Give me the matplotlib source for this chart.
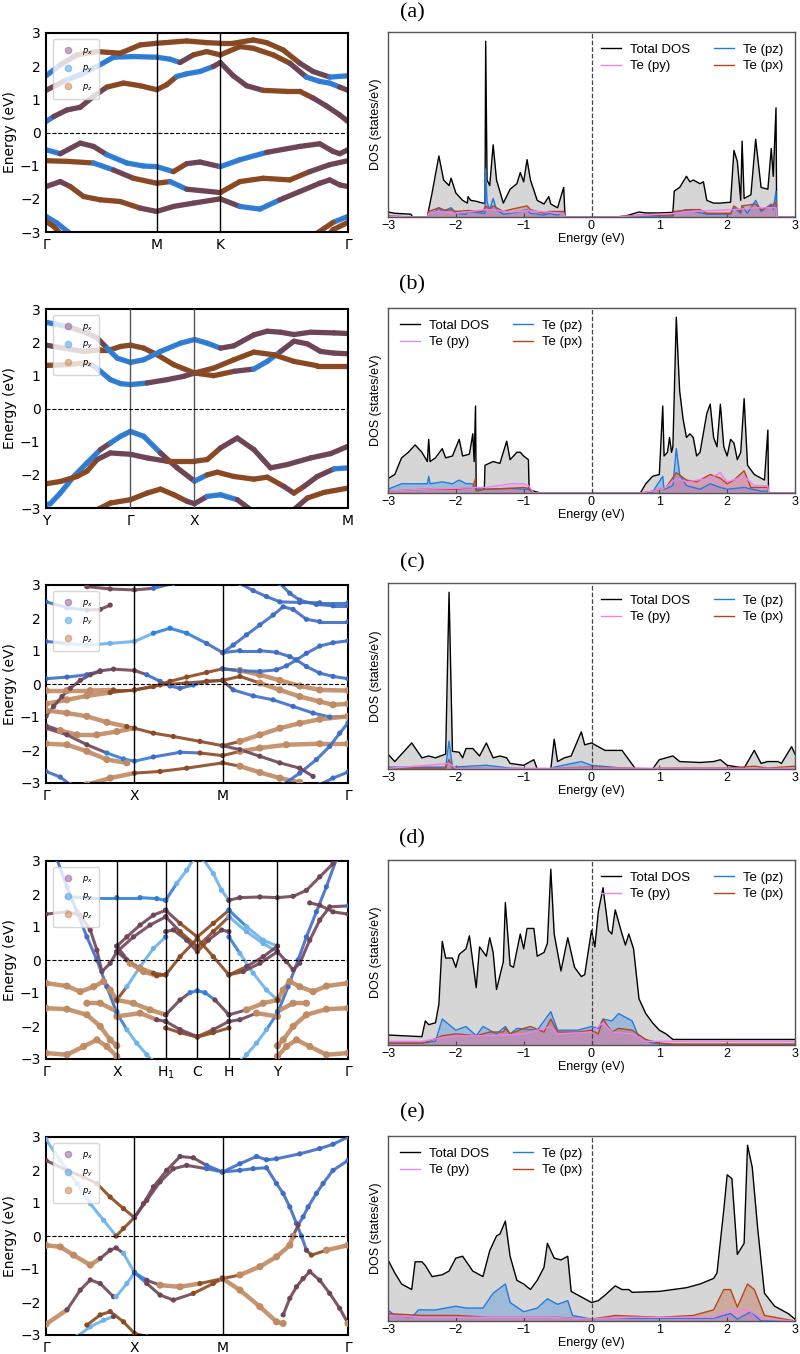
import numpy as np
import matplotlib
matplotlib.use("Agg")
import matplotlib.pyplot as plt
from matplotlib.collections import LineCollection
from matplotlib.lines import Line2D

# ---------------- band structures: (k, E, orbital tag) ----------------
# tags: z = pz brown, x = px purple-brown, y = py blue, b = light blue, d = blue dots, o = tan
KTICKS_A = [0, 333, 524, 908]
KLABELS_A = ['Γ', 'M', 'K', 'Γ']
BANDS_A = [
    [(0, .33, 'y'), (23, .48, 'x'), (63, .68, 'x'), (103, .76, 'x'), (143, 1.09, 'x'), (183, 1.37, 'z'), (233, 1.49, 'z'),
     (283, 1.41, 'z'), (333, 1.29, 'z'), (363, 1.44, 'z'), (393, 1.69, 'y'), (423, 1.77, 'y'), (463, 1.84, 'y'), (503, 1.99, 'x'),
     (524, 2.11, 'x'), (563, 1.71, 'x'), (603, 1.41, 'x'), (653, 1.27, 'z'), (723, 1.24, 'z'), (763, 1.24, 'z'), (803, 1.04, 'x'),
     (843, .80, 'x'), (883, .53, 'x'), (908, .33, 'x')],
    [(0, 1.27, 'x'), (33, 1.44, 'x'), (63, 1.59, 'y'), (103, 1.74, 'y'), (153, 1.99, 'y'), (203, 2.27, 'y'), (263, 2.29, 'y'),
     (333, 2.27, 'y'), (373, 2.21, 'y'), (403, 2.11, 'x'), (443, 2.34, 'z'), (483, 2.44, 'z'), (524, 2.34, 'z'), (583, 2.59, 'z'),
     (623, 2.54, 'z'), (683, 2.34, 'z'), (733, 2.09, 'x'), (783, 1.67, 'y'), (823, 1.54, 'y'), (853, 1.49, 'y'), (883, 1.37, 'x'),
     (908, 1.27, 'x')],
    [(0, 1.71, 'y'), (43, 2.04, 'x'), (93, 2.34, 'z'), (153, 2.44, 'z'), (223, 2.39, 'z'), (283, 2.64, 'z'), (333, 2.69, 'z'),
     (423, 2.76, 'z'), (483, 2.71, 'z'), (524, 2.69, 'z'), (563, 2.69, 'z'), (623, 2.79, 'z'), (663, 2.71, 'z'), (713, 2.49, 'z'),
     (763, 2.09, 'x'), (803, 1.84, 'x'), (853, 1.67, 'y'), (908, 1.71, 'y')],
    [(0, -.52, 'y'), (43, -.64, 'x'), (103, -.32, 'x'), (143, -.42, 'x'), (183, -.67, 'y'), (243, -.92, 'y'), (293, -1.01, 'y'),
     (333, -1.03, 'y'), (383, -1.18, 'z'), (423, -.94, 'x'), (463, -.89, 'x'), (524, -1.03, 'y'), (583, -.82, 'y'), (663, -.60, 'x'),
     (763, -.42, 'x'), (823, -.34, 'x'), (863, -.57, 'x'), (883, -.64, 'x'), (908, -.52, 'y')],
    [(0, -.85, 'z'), (63, -.87, 'z'), (143, -.92, 'y'), (203, -1.13, 'x'), (263, -1.38, 'z'), (333, -1.53, 'z'), (373, -1.48, 'y'),
     (423, -1.71, 'x'), (524, -1.81, 'z'), (583, -1.48, 'z'), (653, -1.38, 'z'), (733, -1.43, 'z'), (793, -1.18, 'x'),
     (853, -.97, 'x'), (908, -.85, 'z')],
    [(0, -1.63, 'x'), (43, -1.48, 'x'), (73, -1.63, 'z'), (113, -1.93, 'z'), (163, -2.03, 'z'), (223, -2.08, 'z'), (283, -2.28, 'x'),
     (333, -2.38, 'x'), (383, -2.23, 'x'), (443, -2.13, 'x'), (524, -2.0, 'x'), (583, -2.23, 'y'), (643, -2.31, 'y'),
     (703, -2.03, 'x'), (763, -1.78, 'x'), (823, -1.53, 'x'), (853, -1.43, 'x'), (883, -1.58, 'x'), (908, -1.63, 'z')],
    [(0, -2.53, 'y'), (33, -2.73, 'y'), (73, -3.05, 'x')],
    [(0, -2.68, 'z'), (23, -2.83, 'z'), (43, -3.05, 'z')],
    [(908, -2.53, 'y'), (863, -2.71, 'z'), (813, -3.05, 'z')],
    [(908, -2.71, 'z'), (863, -2.93, 'z'), (853, -3.05, 'z')],
]

KTICKS_B = [0, 253, 445, 905]
KLABELS_B = ['Y', 'Γ', 'X', 'M']
BANDS_B = [
    [(0, 1.30, 'z'), (63, 1.32, 'z'), (113, 1.37, 'z'), (143, 1.29, 'y'), (163, 1.12, 'y'), (193, .87, 'y'), (223, .75, 'y'),
     (253, .72, 'y'), (303, .77, 'x'), (363, .87, 'x'), (413, .97, 'x'), (445, 1.07, 'z'), (503, .99, 'z'), (563, 1.12, 'x'),
     (623, 1.19, 'y'), (663, 1.42, 'y'), (703, 1.72, 'x'), (743, 2.03, 'x'), (783, 1.95, 'x'), (823, 1.72, 'x'), (863, 1.67, 'x'),
     (905, 1.65, 'x')],
    [(0, 1.91, 'x'), (113, 1.72, 'z'), (163, 1.77, 'z'), (193, 1.77, 'z'), (223, 1.87, 'z'), (253, 1.91, 'z'), (293, 1.82, 'z'),
     (333, 1.62, 'z'), (383, 1.32, 'z'), (445, 1.07, 'z'), (503, 1.22, 'z'), (563, 1.47, 'z'), (623, 1.70, 'z'), (683, 1.62, 'z'),
     (743, 1.42, 'z'), (813, 1.29, 'z'), (905, 1.29, 'z')],
    [(0, 2.60, 'y'), (63, 2.47, 'x'), (123, 2.28, 'x'), (153, 2.13, 'x'), (183, 1.82, 'y'), (213, 1.52, 'y'), (253, 1.39, 'y'),
     (293, 1.47, 'y'), (343, 1.72, 'y'), (403, 1.97, 'y'), (445, 2.08, 'y'), (483, 1.97, 'y'), (523, 1.82, 'x'), (563, 1.89, 'x'),
     (623, 2.22, 'x'), (663, 2.33, 'x'), (703, 2.30, 'x'), (743, 2.23, 'x'), (793, 2.30, 'x'), (863, 2.28, 'x'), (905, 2.26, 'x')],
    [(0, -2.90, 'y'), (13, -2.87, 'y'), (43, -2.55, 'y'), (83, -2.05, 'y'), (123, -1.64, 'y'), (163, -1.24, 'x'), (193, -1.04, 'y'),
     (223, -.84, 'y'), (253, -.69, 'y'), (293, -.84, 'y'), (343, -1.34, 'x'), (393, -1.79, 'x'), (445, -2.19, 'y'), (483, -2.0, 'z'),
     (513, -1.92, 'z'), (563, -2.05, 'z'), (623, -2.13, 'z'), (663, -2.07, 'z'), (713, -2.35, 'x'), (743, -2.55, 'z'),
     (773, -2.35, 'x'), (813, -2.05, 'x'), (863, -1.82, 'y'), (905, -1.79, 'y')],
    [(0, -2.27, 'z'), (43, -2.20, 'z'), (93, -2.05, 'z'), (123, -1.89, 'z'), (153, -1.54, 'x'), (193, -1.34, 'x'), (223, -1.36, 'x'),
     (253, -1.38, 'x'), (303, -1.49, 'x'), (363, -1.59, 'z'), (403, -1.59, 'z'), (445, -1.59, 'z'), (483, -1.54, 'z'),
     (523, -1.19, 'x'), (573, -.89, 'x'), (623, -1.24, 'x'), (673, -1.79, 'x'), (723, -1.69, 'x'), (793, -1.49, 'x'),
     (853, -1.36, 'x'), (905, -1.14, 'x')],
    [(153, -3.05, 'z'), (193, -2.85, 'z'), (253, -2.75, 'z'), (303, -2.55, 'z'), (343, -2.43, 'z'), (383, -2.60, 'z'),
     (423, -2.80, 'x'), (445, -2.87, 'x'), (483, -2.65, 'y'), (523, -2.60, 'y'), (573, -2.75, 'x'), (613, -3.05, 'x')],
    [(743, -3.05, 'x'), (783, -2.70, 'z'), (833, -2.53, 'z'), (905, -2.40, 'z')],
]

KTICKS_C = [0, 266, 531, 908]
KLABELS_C = ['Γ', 'X', 'M', 'Γ']
BANDS_C = [
    [(0, .16, 'd'), (63, .21, 'd'), (123, .28, 'd'), (163, .40, 'x'), (203, .45, 'x'), (266, .41, 'x'), (303, .28, 'd'), (343, .08, 'd'),
     (373, -.06, 'd'), (403, -.13, 'd'), (443, -.03, 'd'), (483, .08, 'd'), (531, .11, 'x'), (563, -.18, 'd'), (623, -.36, 'd'),
     (683, -.48, 'd'), (743, -.68, 'd'), (803, -.88, 'd'), (853, -1.0, 'd'), (908, -.98, 'd')],
    [(0, -.20, 'o'), (63, -.20, 'o'), (133, -.20, 'o'), (203, -.18, 'z'), (266, -.18, 'z'), (323, -.08, 'z'), (373, .08, 'z'),
     (423, .21, 'z'), (483, .35, 'z'), (531, .46, 'z'), (583, .41, 'o'), (643, .28, 'o'), (703, .11, 'o'), (763, -.06, 'o'),
     (823, -.18, 'o'), (908, -.20, 'o')],
    [(0, -.60, 'o'), (63, -.48, 'o'), (123, -.36, 'o'), (193, -.26, 'z'), (266, -.18, 'z'), (343, -.03, 'z'), (423, .03, 'z'),
     (483, .08, 'z'), (531, .11, 'z'), (583, .23, 'z'), (643, .03, 'o'), (703, -.18, 'o'), (763, -.38, 'o'), (823, -.53, 'o'),
     (863, -.63, 'o'), (908, -.60, 'o')],
    [(0, -.98, 'x'), (23, -.68, 'x'), (48, -.38, 'x'), (73, -.13, 'x'), (103, .11, 'x'), (133, .28, 'x'), (163, .38, 'x')],
    [(0, -.80, 'o'), (63, -.88, 'o'), (123, -.98, 'o'), (183, -1.16, 'o'), (243, -1.29, 'z'), (266, -1.34, 'z'), (323, -1.49, 'z'),
     (383, -1.59, 'z'), (463, -1.74, 'z'), (531, -1.87, 'z'), (583, -1.74, 'o'), (643, -1.54, 'o'), (703, -1.34, 'o'),
     (763, -1.19, 'o'), (823, -1.07, 'o'), (908, -.98, 'o')],
    [(0, -1.26, 'x'), (43, -1.41, 'o'), (93, -1.54, 'o'), (153, -1.54, 'o'), (213, -1.44, 'o'), (266, -1.34, 'z')],
    [(0, -1.34, 'x'), (63, -1.54, 'x'), (123, -1.84, 'x'), (183, -2.09, 'y'), (233, -2.27, 'y'), (266, -2.34, 'y'), (323, -2.21, 'd'),
     (403, -2.07, 'd'), (463, -2.09, 'z'), (531, -2.17, 'z'), (583, -2.04, 'o'), (643, -1.94, 'o'), (723, -1.84, 'o'),
     (823, -1.81, 'o'), (908, -1.81, 'o')],
    [(0, -1.81, 'o'), (63, -1.84, 'o'), (123, -2.04, 'o'), (183, -2.29, 'o'), (243, -2.39, 'o')],
    [(123, -3.05, 'o'), (193, -2.85, 'o'), (266, -2.70, 'z'), (343, -2.65, 'z'), (423, -2.55, 'z'), (531, -2.39, 'z'),
     (583, -2.49, 'o'), (643, -2.68, 'o'), (703, -2.85, 'o'), (763, -2.98, 'o')],
    [(0, -2.65, 'd'), (43, -2.82, 'd'), (73, -3.05, 'd')],
    [(0, 1.29, 'd'), (63, 1.23, 'b'), (123, 1.18, 'b'), (193, 1.23, 'b'), (266, 1.29, 'b'), (323, 1.54, 'y'), (373, 1.69, 'y'),
     (423, 1.54, 'y'), (483, 1.23, 'd'), (531, .95, 'd'), (563, 1.18, 'd'), (603, 1.49, 'd'), (643, 1.79, 'd'), (683, 2.09, 'd'),
     (713, 2.34, 'd'), (743, 2.26, 'd'), (783, 1.96, 'd'), (823, 1.89, 'd'), (908, 1.89, 'd')],
    [(531, .95, 'd'), (583, 1.01, 'd'), (643, 1.01, 'd'), (693, .96, 'd'), (733, .83, 'd'), (753, .73, 'd'), (783, .93, 'd'),
     (823, 1.15, 'd'), (863, 1.25, 'd'), (908, 1.31, 'd')],
    [(531, .46, 'd'), (583, .40, 'd'), (643, .38, 'd'), (693, .43, 'd'), (723, .55, 'd'), (753, .73, 'd'), (783, .53, 'd'),
     (823, .33, 'd'), (863, .23, 'd'), (908, .16, 'd')],
    [(583, 3.05, 'd'), (623, 2.83, 'd'), (663, 2.65, 'd'), (703, 2.49, 'd'), (763, 2.47, 'd'), (823, 2.46, 'd'), (908, 2.46, 'd')],
    [(703, 3.05, 'd'), (733, 2.75, 'd'), (763, 2.54, 'd'), (813, 2.41, 'd'), (863, 2.37, 'd'), (908, 2.37, 'd')],
    [(123, 2.95, 'x'), (193, 2.88, 'x'), (266, 2.85, 'x'), (323, 2.90, 'd'), (383, 3.05, 'd')],
    [(0, 2.49, 'd'), (63, 2.31, 'd'), (123, 2.24, 'x'), (163, 2.26, 'x'), (193, 2.39, 'x')],
    [(713, -3.05, 'd'), (763, -2.70, 'd'), (813, -2.29, 'd'), (853, -1.89, 'd'), (883, -1.49, 'd'), (908, -1.18, 'd')],
    [(823, -3.05, 'd'), (863, -2.85, 'd'), (908, -2.67, 'd')],
    [(531, -1.87, 'x'), (583, -1.99, 'x'), (643, -2.19, 'x'), (703, -2.39, 'x'), (763, -2.55, 'x'), (803, -2.80, 'x')],
]

KTICKS_D = [0, 213, 360, 455, 550, 696, 908]
KLABELS_D = ['Γ', 'X', 'H$_1$', 'C', 'H', 'Y', 'Γ']
BANDS_D = [
    [(33, 3.05, 'd'), (63, 2.22, 'd'), (93, 1.46, 'd'), (123, .70, 'd'), (153, 0.0, 'd'), (183, -.81, 'd'), (213, -1.61, 'y'),
     (243, -2.11, 'b'), (273, -2.52, 'b'), (303, -2.87, 'b'), (318, -3.05, 'b')],
    [(873, 3.05, 'd'), (843, 2.22, 'd'), (813, 1.46, 'd'), (783, .70, 'd'), (758, 0.0, 'd'), (728, -.81, 'd'), (696, -1.61, 'y'),
     (663, -2.11, 'b'), (633, -2.52, 'b'), (603, -2.87, 'b'), (588, -3.05, 'b')],
    [(213, -1.21, 'z'), (243, -.81, 'b'), (283, -.20, 'b'), (323, .35, 'b'), (360, .70, 'y')],
    [(550, .70, 'y'), (583, .20, 'b'), (623, -.40, 'b'), (663, -.91, 'b'), (696, -1.21, 'z')],
    [(360, 1.51, 'x'), (403, 1.11, 'z'), (455, .70, 'z'), (503, 1.11, 'z'), (550, 1.51, 'x')],
    [(360, 1.31, 'x'), (403, .86, 'z'), (455, .40, 'z'), (503, .86, 'z'), (550, 1.31, 'x')],
    [(360, -.45, 'z'), (403, .10, 'z'), (455, .65, 'z'), (503, .10, 'z'), (550, -.45, 'z')],
    [(360, .86, 'x'), (383, .91, 'x'), (423, .60, 'x'), (455, .25, 'z'), (488, .60, 'x'), (528, .91, 'x'), (550, .86, 'x')],
    [(360, 1.81, 'y'), (393, 2.32, 'b'), (423, 2.72, 'b'), (443, 3.05, 'b')],
    [(473, 3.05, 'b'), (503, 2.62, 'b'), (528, 2.11, 'b'), (550, 1.81, 'y')],
    [(360, -1.66, 'x'), (403, -1.21, 'x'), (433, -.99, 'y'), (455, -.93, 'y'), (478, -.99, 'y'), (508, -1.21, 'x'), (550, -1.66, 'x')],
    [(360, -2.06, 'z'), (403, -2.20, 'z'), (455, -2.34, 'z'), (503, -2.20, 'z'), (550, -2.06, 'z')],
    [(360, -1.86, 'x'), (403, -2.11, 'x'), (455, -2.32, 'z'), (503, -2.11, 'x'), (550, -1.86, 'x')],
    [(213, -1.21, 'o'), (263, -1.31, 'o'), (313, -1.51, 'o'), (360, -1.66, 'x')],
    [(213, -1.71, 'o'), (283, -1.61, 'o'), (333, -1.81, 'x'), (360, -1.86, 'x')],
    [(550, -1.66, 'x'), (603, -1.51, 'o'), (653, -1.31, 'o'), (696, -1.21, 'o')],
    [(550, -1.86, 'x'), (583, -1.81, 'x'), (633, -1.61, 'o'), (696, -1.71, 'o')],
    [(213, .42, 'x'), (243, .70, 'x'), (283, 1.06, 'x'), (323, 1.36, 'x'), (360, 1.51, 'x')],
    [(213, .25, 'x'), (263, .70, 'x'), (313, 1.06, 'x'), (360, 1.31, 'x')],
    [(213, .25, 'x'), (243, 0.0, 'x'), (283, -.25, 'o'), (323, -.40, 'z'), (360, -.45, 'z')],
    [(213, .42, 'x'), (253, -.10, 'o'), (293, -.35, 'o'), (333, -.48, 'z'), (360, -.45, 'z')],
    [(550, 1.51, 'y'), (603, 1.01, 'b'), (653, .60, 'b'), (696, .42, 'x')],
    [(550, 1.31, 'b'), (603, .86, 'b'), (653, .50, 'b'), (696, .25, 'x')],
    [(550, -.45, 'z'), (593, -.35, 'x'), (643, -.10, 'x'), (696, .25, 'x')],
    [(550, -.45, 'z'), (603, -.20, 'x'), (653, .10, 'x'), (696, .42, 'x')],
    [(63, 1.91, 'y'), (123, 1.89, 'y'), (213, 1.89, 'y'), (283, 1.89, 'y'), (333, 1.86, 'y'), (360, 1.81, 'y')],
    [(550, 1.81, 'x'), (583, 1.89, 'x'), (643, 1.91, 'x'), (696, 1.89, 'x'), (743, 1.93, 'x'), (783, 2.11, 'x'), (823, 2.52, 'x'),
     (863, 2.92, 'x')],
    [(0, 1.39, 'x'), (63, 1.46, 'x'), (103, 1.36, 'x'), (133, .91, 'x'), (153, .30, 'x'), (168, -.35, 'x'), (193, -.10, 'x'),
     (213, .25, 'x')],
    [(696, .25, 'x'), (723, -.05, 'x'), (743, -.30, 'x'), (763, -.10, 'x'), (793, .60, 'x'), (823, 1.21, 'x'), (853, 1.61, 'x'),
     (908, 1.64, 'y')],
    [(908, 1.39, 'x'), (863, 1.46, 'x'), (823, 1.66, 'x'), (793, 1.73, 'x')],
    [(0, -.70, 'o'), (63, -.79, 'o'), (103, -.96, 'o'), (143, -.81, 'o'), (173, -.65, 'o'), (193, -.91, 'o'), (213, -1.21, 'z')],
    [(908, -.70, 'o'), (843, -.79, 'o'), (803, -.96, 'o'), (763, -.81, 'o'), (733, -.65, 'o'), (713, -.91, 'o'), (696, -1.21, 'z')],
    [(0, -1.46, 'o'), (63, -1.49, 'o'), (123, -1.66, 'o'), (163, -2.01, 'o'), (193, -2.42, 'o'), (213, -2.60, 'o')],
    [(123, -1.31, 'o'), (163, -1.31, 'o'), (213, -1.56, 'y')],
    [(908, -1.46, 'o'), (843, -1.49, 'o'), (783, -1.66, 'o'), (743, -2.01, 'o'), (713, -2.42, 'o'), (696, -2.60, 'o')],
    [(783, -1.31, 'o'), (743, -1.31, 'o'), (696, -1.56, 'y')],
    [(0, -2.82, 'o'), (63, -2.87, 'o'), (113, -2.62, 'o'), (153, -2.42, 'o'), (183, -2.62, 'o'), (213, -2.92, 'o')],
    [(908, -2.82, 'o'), (843, -2.87, 'o'), (793, -2.62, 'o'), (753, -2.42, 'o'), (723, -2.62, 'o'), (696, -2.92, 'o')],
]

KTICKS_E = [0, 266, 531, 908]
KLABELS_E = ['Γ', 'X', 'M', 'Γ']
BANDS_E = [
    [(0, 2.92, 'b'), (43, 2.29, 'b'), (93, 1.59, 'b'), (133, .98, 'b'), (173, .48, 'b'), (211, 0.0, 'b')],
    [(211, 0.0, 'z'), (233, .23, 'z'), (266, .56, 'z')],
    [(0, 2.29, 'x'), (63, 1.99, 'z'), (113, 1.79, 'z'), (153, 1.59, 'z'), (193, 1.18, 'z'), (233, .83, 'z'), (266, .56, 'z')],
    [(266, .56, 'x'), (293, .98, 'x'), (323, 1.49, 'x'), (363, 1.99, 'x'), (403, 2.41, 'x'), (443, 2.37, 'x'), (483, 2.14, 'd'),
     (531, 1.94, 'd')],
    [(266, .56, 'x'), (303, 1.08, 'x'), (343, 1.64, 'x'), (383, 2.04, 'x'), (423, 2.14, 'x'), (483, 2.04, 'd'), (531, 1.94, 'd')],
    [(531, 1.94, 'd'), (583, 2.19, 'd'), (633, 2.41, 'd'), (663, 2.31, 'd'), (693, 2.34, 'd'), (763, 2.49, 'd'), (823, 2.65, 'd'),
     (863, 2.78, 'd'), (908, 3.0, 'd')],
    [(531, 1.94, 'd'), (583, 1.99, 'd'), (623, 2.04, 'd'), (663, 2.07, 'd'), (693, 1.59, 'd'), (713, 1.29, 'd'), (733, .88, 'd'),
     (753, .38, 'd'), (768, 0.0, 'd'), (783, -.43, 'x'), (798, -.58, 'z'), (843, -.43, 'o'), (908, -.28, 'o')],
    [(908, 2.29, 'd'), (863, 1.99, 'd'), (833, 1.59, 'd'), (813, 1.29, 'd'), (788, .88, 'd'), (773, .58, 'd'), (758, .33, 'x'),
     (743, 0.0, 'z')],
    [(531, -1.29, 'z'), (583, -1.18, 'o'), (643, -.93, 'o'), (693, -.63, 'o'), (733, -.28, 'o'), (743, 0.0, 'o')],
    [(531, -1.29, 'o'), (583, -1.64, 'o'), (643, -2.14, 'o'), (693, -2.60, 'o'), (713, -2.65, 'o')],
    [(713, -2.39, 'x'), (733, -1.89, 'x'), (753, -1.54, 'x'), (773, -1.29, 'x'), (793, -1.08, 'x'), (823, -1.34, 'x'),
     (853, -1.74, 'x'), (883, -2.19, 'x'), (908, -2.65, 'o')],
    [(0, -.28, 'o'), (43, -.33, 'o'), (83, -.58, 'o'), (133, -.88, 'o'), (163, -.68, 'x'), (193, -.43, 'x'), (211, -.36, 'x'),
     (233, -.53, 'b'), (266, -1.11, 'y')],
    [(0, -2.67, 'o'), (63, -2.24, 'x'), (103, -1.64, 'x'), (133, -1.33, 'x'), (163, -1.44, 'x'), (203, -1.84, 'x'),
     (211, -1.84, 'b'), (243, -1.44, 'b'), (266, -1.11, 'y')],
    [(266, -1.11, 'y'), (303, -1.34, 'x'), (343, -1.49, 'o'), (403, -1.54, 'o'), (463, -1.44, 'z'), (531, -1.29, 'z')],
    [(266, -1.11, 'y'), (303, -1.44, 'x'), (343, -1.79, 'x'), (383, -1.94, 'x'), (443, -1.74, 'z'), (503, -1.44, 'z'),
     (531, -1.29, 'z')],
    [(93, -3.05, 'b'), (133, -2.75, 'b'), (173, -2.55, 'b'), (203, -2.44, 'x')],
    [(123, -2.70, 'z'), (163, -2.39, 'z'), (193, -2.29, 'z'), (233, -2.60, 'z'), (266, -2.95, 'z'), (303, -3.05, 'z')],
]

# ---------------- DOS: (E, states/eV, scaled to panel) ----------------
DOS_A_TOT = [(-3.0, .027), (-2.9, .02), (-2.66, .015), (-2.64, 0), (-2.42, 0), (-2.40, .04), (-2.35, .13), (-2.25, .33), (-2.18, .2),
             (-2.1, .17), (-2.07, .21), (-2.0, .13), (-1.9, .09), (-1.83, .075), (-1.82, .11), (-1.78, .09), (-1.7, .085),
             (-1.6, .075), (-1.57, .075), (-1.56, .95), (-1.54, .2), (-1.5, .17), (-1.45, .39), (-1.4, .2), (-1.3, .075),
             (-1.2, .15), (-1.1, .18), (-1.05, .24), (-1.0, .19), (-.95, .31), (-.9, .2), (-.8, .09), (-.7, .07), (-.63, .11),
             (-.6, .07), (-.5, .05), (-.41, .16), (-.39, 0), (.35, 0), (.5, .005), (.7, .027), (.8, .022), (1.0, .022),
             (1.2, .025), (1.22, .14), (1.3, .16), (1.4, .22), (1.45, .19), (1.5, .2), (1.6, .18), (1.65, .19), (1.7, .09),
             (1.8, .075), (1.9, .075), (2.05, .08), (2.1, .36), (2.15, .3), (2.2, .09), (2.22, .41), (2.25, .1), (2.35, .12),
             (2.42, .42), (2.5, .16), (2.6, .15), (2.65, .37), (2.68, .22), (2.72, .59), (2.73, 0), (3.0, 0)]
DOS_A_PZ = [(-3, .005), (-2.65, 0), (-2.42, 0), (-2.4, .02), (-2.3, .03), (-2.25, .05), (-2.2, .03), (-2.07, .05), (-2.0, .02),
            (-1.85, .015), (-1.82, .03), (-1.6, .02), (-1.57, .02), (-1.56, .26), (-1.54, .08), (-1.5, .04), (-1.45, .1),
            (-1.4, .04), (-1.3, .015), (-1.2, .02), (-1.1, .025), (-.95, .04), (-.9, .02), (-.7, .01), (-.63, .02), (-.5, .01),
            (-.41, .03), (-.39, 0), (.35, 0), (.7, .005), (1.2, .005), (1.22, .02), (1.4, .04), (1.7, .015), (2.05, .015),
            (2.1, .05), (2.2, .02), (2.22, .06), (2.3, .02), (2.42, .09), (2.5, .03), (2.65, .07), (2.68, .04), (2.72, .14),
            (2.73, 0), (3.0, 0)]
DOS_A_PX = [(-3, .005), (-2.65, 0), (-2.42, 0), (-2.4, .03), (-2.25, .05), (-2.15, .035), (-2.07, .04), (-2.0, .03), (-1.82, .035),
            (-1.6, .03), (-1.56, .06), (-1.5, .04), (-1.45, .06), (-1.3, .03), (-1.2, .04), (-.95, .06), (-.9, .04), (-.7, .02),
            (-.63, .03), (-.41, .03), (-.39, 0), (.35, 0), (.7, .01), (1.2, .01), (1.22, .03), (1.45, .04), (1.6, .04), (1.7, .02),
            (2.05, .02), (2.1, .06), (2.2, .03), (2.22, .06), (2.42, .07), (2.5, .04), (2.65, .06), (2.72, .08), (2.73, 0), (3.0, 0)]
DOS_A_PY = [(-3, .003), (-2.65, 0), (-2.42, 0), (-2.4, .02), (-2.25, .03), (-2.0, .02), (-1.56, .04), (-1.45, .04), (-1.2, .025),
            (-.95, .035), (-.41, .02), (-.39, 0), (.35, 0), (1.22, .02), (1.45, .03), (2.1, .04), (2.42, .05), (2.72, .05),
            (2.73, 0), (3.0, 0)]

DOS_B_TOT = [(-3.0, .078), (-2.9, .1), (-2.8, .19), (-2.7, .22), (-2.6, .26), (-2.5, .22), (-2.42, .17), (-2.4, .29), (-2.38, .17),
             (-2.3, .19), (-2.2, .24), (-2.15, .19), (-2.05, .2), (-1.95, .29), (-1.9, .2), (-1.8, .21), (-1.75, .32), (-1.73, .17),
             (-1.71, .47), (-1.70, .02), (-1.58, .02), (-1.57, .15), (-1.45, .17), (-1.35, .16), (-1.25, .28), (-1.2, .18),
             (-1.1, .22), (-1.05, .22), (-1.0, .2), (-.93, .18), (-.92, .02), (-.85, .01), (-.75, 0), (.72, 0), (.8, .05),
             (.9, .09), (1.0, .1), (1.05, .47), (1.07, .2), (1.12, .22), (1.15, .3), (1.18, .22), (1.2, .25), (1.25, .95),
             (1.28, .7), (1.3, .55), (1.35, .4), (1.4, .3), (1.45, .32), (1.5, .3), (1.55, .2), (1.6, .22), (1.7, .43),
             (1.75, .48), (1.8, .3), (1.85, .25), (1.9, .48), (1.95, .25), (2.0, .2), (2.05, .29), (2.1, .27), (2.15, .18),
             (2.2, .22), (2.25, .51), (2.3, .15), (2.4, .1), (2.5, .08), (2.55, .07), (2.6, .34), (2.61, 0), (3.0, 0)]
DOS_B_PZ = [(-3, .02), (-2.8, .05), (-2.6, .05), (-2.42, .05), (-2.4, .09), (-2.38, .05), (-2.2, .06), (-2.05, .05), (-1.95, .07),
            (-1.85, .05), (-1.75, .05), (-1.7, .02), (-1.57, .02), (-1.2, .025), (-1.0, .02), (-.93, .02), (-.85, 0), (.72, 0),
            (.9, .005), (1.05, .09), (1.07, .02), (1.2, .04), (1.25, .24), (1.3, .1), (1.4, .04), (1.6, .02), (1.75, .05),
            (1.9, .03), (2.0, .02), (2.25, .03), (2.5, .01), (2.6, .01), (2.61, 0), (3, 0)]
DOS_B_PX = [(-3, .01), (-2.5, .02), (-2.0, .02), (-1.75, .03), (-1.71, .08), (-1.70, .01), (-1.57, .02), (-1.2, .025), (-1.0, .03),
            (-.93, .025), (-.85, 0), (.72, 0), (.9, .01), (1.1, .03), (1.25, .11), (1.4, .07), (1.55, .06), (1.75, .1),
            (1.9, .08), (2.0, .05), (2.1, .07), (2.25, .12), (2.35, .03), (2.55, .03), (2.6, .03), (2.61, 0), (3, 0)]
DOS_B_PY = [(-3, .01), (-2.5, .02), (-2.0, .025), (-1.7, .03), (-1.57, .03), (-1.2, .05), (-1.0, .05), (-.93, .04), (-.85, 0),
            (.72, 0), (.9, .01), (1.1, .03), (1.25, .08), (1.4, .06), (1.75, .08), (1.9, .11), (2.0, .06), (2.25, .09),
            (2.4, .04), (2.6, .04), (2.61, 0), (3, 0)]

DOS_C_TOT = [(-3.0, .08), (-2.9, .04), (-2.65, .14), (-2.5, .06), (-2.4, .07), (-2.3, .06), (-2.15, .08), (-2.1, .95), (-2.05, .095),
             (-1.95, .09), (-1.9, .06), (-1.85, .11), (-1.75, .11), (-1.65, .07), (-1.55, .14), (-1.45, .06), (-1.35, .07),
             (-1.25, .06), (-1.2, .03), (-1.0, .02), (-.85, .05), (-.8, 0), (-.6, 0), (-.55, .16), (-.5, .04), (-.4, .06),
             (-.3, .07), (-.15, .2), (-.1, .13), (0.0, .14), (.1, .12), (.2, .1), (.3, .1), (.45, .1), (.55, .05), (.65, 0),
             (.9, 0), (1.0, .05), (1.2, .07), (1.3, .04), (1.6, .035), (1.8, .04), (1.9, .05), (2.0, .02), (2.25, .005),
             (2.4, .1), (2.5, .03), (2.6, .04), (2.75, .04), (2.8, .03), (2.95, .12), (3.0, .08)]
DOS_C_PZ = [(-3, .01), (-2.5, .01), (-2.15, .01), (-2.1, .15), (-2.05, .01), (-1.55, .02), (-1.2, .005), (-.8, 0), (-.6, 0),
            (-.55, .01), (-.15, .04), (0.0, .02), (.3, .01), (.6, 0), (3, 0)]
DOS_C_PX = [(-3, .005), (-2.15, .005), (-2.1, .05), (-2.05, .005), (-.8, 0), (-.6, 0), (-.55, .005), (0.0, .01), (.6, .005), (.9, 0),
            (1.0, .005), (2.0, .005), (2.4, .015), (2.6, .005), (3.0, .015)]
DOS_C_PY = [(-3, .003), (-2.1, .03), (-2.0, .003), (0.0, .005), (3, .003)]

DOS_D_TOT = [(-3.0, .054), (-2.5, .045), (-2.45, .13), (-2.4, .11), (-2.3, .12), (-2.25, .22), (-2.2, .56), (-2.15, .47), (-2.05, .47),
             (-2.0, .42), (-1.95, .49), (-1.85, .52), (-1.8, .59), (-1.7, .31), (-1.65, .53), (-1.55, .48), (-1.5, .58),
             (-1.45, .5), (-1.4, .3), (-1.3, .45), (-1.27, .77), (-1.2, .43), (-1.15, .42), (-1.05, .6), (-1.0, .52),
             (-.95, .63), (-.85, .63), (-.8, .48), (-.7, .5), (-.65, .55), (-.6, .95), (-.55, .6), (-.45, .4), (-.35, .58),
             (-.25, .42), (-.15, .37), (-.1, .38), (0.0, .62), (.05, .53), (.1, .72), (.17, .85), (.25, .62), (.3, .6),
             (.35, .73), (.45, .6), (.5, .54), (.55, .6), (.62, .52), (.7, .25), (.8, .17), (.9, .12), (1.0, .08), (1.1, .06),
             (1.2, .03), (3.0, .03)]
DOS_D_PZ = [(-3, .01), (-2.5, .01), (-2.3, .02), (-2.2, .14), (-2.0, .08), (-1.85, .1), (-1.7, .05), (-1.6, .1), (-1.4, .06),
            (-1.27, .1), (-1.2, .06), (-1.1, .09), (-.8, .08), (-.6, .18), (-.5, .08), (-.2, .08), (0.0, .1), (.1, .09),
            (.17, .14), (.3, .13), (.4, .17), (.6, .13), (.7, .04), (.9, .01), (1.2, 0), (3, 0)]
DOS_D_PX = [(-3, .01), (-2.5, .01), (-2.4, .02), (-2.2, .05), (-2.0, .06), (-1.7, .05), (-1.5, .07), (-1.3, .07), (-1.27, .09),
            (-1.2, .06), (-1.0, .09), (-.9, .1), (-.7, .07), (-.6, .14), (-.5, .07), (-.2, .07), (0.0, .08), (.1, .06),
            (.17, .14), (.3, .07), (.4, .09), (.6, .08), (.8, .03), (1.0, .01), (1.2, .005), (3, .005)]
DOS_D_PY = [(-3, .02), (-2.5, .02), (-2.2, .04), (-2.0, .05), (-1.5, .05), (-1.0, .06), (-.6, .1), (-.5, .06), (0.0, .07),
            (.17, .12), (.3, .07), (.6, .06), (.8, .02), (1.2, .02), (3, .02)]

DOS_E_TOT = [(-3.0, .33), (-2.9, .26), (-2.8, .2), (-2.65, .17), (-2.6, .32), (-2.5, .32), (-2.45, .3), (-2.35, .24), (-2.2, .25),
             (-2.1, .27), (-2.0, .34), (-1.9, .35), (-1.75, .27), (-1.6, .24), (-1.5, .38), (-1.4, .46), (-1.35, .47),
             (-1.27, .54), (-1.2, .35), (-1.1, .22), (-1.0, .2), (-.9, .17), (-.8, .22), (-.7, .29), (-.65, .42), (-.55, .34),
             (-.45, .33), (-.35, .35), (-.3, .16), (-.2, .14), (-.1, .12), (0.0, .1), (.1, .11), (.2, .14), (.35, .19),
             (.45, .17), (.55, .17), (.6, .155), (1.0, .16), (1.4, .18), (1.6, .2), (1.8, .23), (1.85, .26), (1.95, .6),
             (2.0, .79), (2.07, .77), (2.15, .36), (2.25, .42), (2.3, .95), (2.37, .83), (2.45, .5), (2.55, .15), (2.7, .08),
             (2.9, .04), (3.0, .01)]
DOS_E_PZ = [(-3, .06), (-2.9, .03), (-2.65, .02), (-2.55, .06), (-2.3, .06), (-2.0, .08), (-1.85, .07), (-1.6, .07), (-1.45, .15),
            (-1.27, .2), (-1.2, .1), (-1.0, .05), (-.8, .07), (-.65, .12), (-.5, .09), (-.35, .11), (-.28, .03), (0.0, .01),
            (.35, .02), (.6, .015), (1.8, .015), (2.05, .04), (2.15, .01), (2.35, .05), (2.5, 0), (3, 0)]
DOS_E_PX = [(-3, .04), (-2.5, .03), (-2.0, .03), (-1.5, .02), (-1.0, .02), (-.5, .02), (0.0, .01), (.35, .03), (1.0, .02),
            (1.5, .03), (1.8, .06), (1.95, .17), (2.05, .17), (2.15, .075), (2.3, .2), (2.4, .17), (2.55, .03), (3.0, 0)]
DOS_E_PY = [(-3, .03), (-2.5, .02), (-2.0, .02), (-1.3, .02), (-.6, .02), (0.0, .01), (.35, .02), (1.8, .02), (2.0, .05),
            (2.3, .06), (2.55, .01), (3, 0)]

# ---------------- styling ----------------
BAND_COLORS = {'z': '#8b4a22', 'x': '#6f4657', 'y': '#2f80da', 'b': '#6cb2ec', 'd': '#3f6dc6', 'o': '#c08a62'}
C_TOT, C_PZ, C_PY, C_PX = 'black', '#1f7be0', '#ee82ee', '#b5461a'
DOS_FONT = 'Liberation Sans'

plt.rcParams['font.family'] = ['DejaVu Sans']
fig = plt.figure(figsize=(8, 13.54), dpi=100)


def px_axes(l, t, r, b):
    return fig.add_axes([l / 800, 1 - b / 1354, (r - l) / 800, (b - t) / 1354])


def band_panel(ax, bands, kticks, klabels, dotted, vline_color='black'):
    for band in bands:
        k, e, tags = zip(*band)
        segs = [[(k[i], e[i]), (k[i + 1], e[i + 1])] for i in range(len(k) - 1)]
        cols = [BAND_COLORS[t] for t in tags[:-1]]
        if dotted:
            lws = [3.2 if t == 'o' else 2.2 for t in tags[:-1]]
            ax.add_collection(LineCollection(segs, colors=cols, linewidths=lws, alpha=0.9, capstyle='round'))
            ax.scatter(k, e, s=[26 if t == 'o' else 14 for t in tags], c=[BAND_COLORS[t] for t in tags],
                       edgecolors='none', zorder=3)
        else:
            ax.add_collection(LineCollection(segs, colors=cols, linewidths=3.8, capstyle='round', joinstyle='round'))
            ax.add_collection(LineCollection(segs, colors='#5a3a40', linewidths=0.6, linestyles=(0, (1, 1.5)), alpha=0.5))
    for kt in kticks[1:-1]:
        ax.axvline(kt, color=vline_color, lw=1.0, zorder=4)
    ax.axhline(0, color='black', ls='--', lw=0.8, zorder=4)
    ax.set_xlim(kticks[0], kticks[-1])
    ax.set_ylim(-3, 3)
    ax.set_xticks(kticks)
    ax.set_xticklabels(klabels, fontsize=10)
    ax.set_yticks([-3, -2, -1, 0, 1, 2, 3])
    ax.set_yticklabels(['−3', '−2', '−1', '0', '1', '2', '3'], fontsize=10)
    ax.tick_params(direction='in', length=0, pad=4)
    ax.set_ylabel('Energy (eV)', fontsize=10, labelpad=2)
    for s in ax.spines.values():
        s.set_linewidth(1.5)
    handles = [Line2D([], [], ls='none', marker='o', ms=4.5, color=c, alpha=0.6)
               for c in ('#9b6fa6', '#5aaaf0', '#cf8f62')]
    ax.legend(handles, ['$p_x$', '$p_y$', '$p_z$'], loc='upper left', fontsize=6, frameon=True,
              handletextpad=0.6, borderpad=0.8, labelspacing=0.8, bbox_to_anchor=(0.01, 0.99))


def dos_panel(ax, tot, pz, px, py, loc):
    e, v = np.array(tot).T
    ax.fill_between(e, 0, v, color='#d6d6d6', lw=0)
    h_tot, = ax.plot(e, v, color=C_TOT, lw=1.0)
    hs = {}
    for data, col, name in ((pz, C_PZ, 'pz'), (px, C_PX, 'px'), (py, C_PY, 'py')):
        e2, v2 = np.array(data).T
        ax.fill_between(e2, 0, v2, color=col, alpha=0.3, lw=0)
        hs[name], = ax.plot(e2, v2, color=col, lw=1.0)
    ax.axvline(0, color='#444444', ls='--', lw=0.9)
    ax.set_xlim(-3, 3)
    ax.set_ylim(0, 1.0)
    ax.set_yticks([])
    ax.set_xticks([-3, -2, -1, 0, 1, 2, 3])
    ax.set_xticklabels(['−3', '−2', '−1', '0', '1', '2', '3'], fontsize=9, family=DOS_FONT)
    ax.tick_params(direction='in', length=3, pad=2, color='#444444')
    ax.set_xlabel('Energy (eV)', fontsize=9, labelpad=1, family=DOS_FONT)
    ax.set_ylabel('DOS (states/eV)', fontsize=9, labelpad=4, family=DOS_FONT)
    for s in ax.spines.values():
        s.set_color('#555555')
        s.set_linewidth(1.0)
    ax.legend([h_tot, hs['py'], hs['pz'], hs['px']], ['Total DOS', 'Te (py)', 'Te (pz)', 'Te (px)'],
              ncol=2, loc=loc, frameon=False, prop={'family': DOS_FONT, 'size': 9.5}, handlelength=1.5,
              handletextpad=0.7, columnspacing=1.8, labelspacing=0.3, borderaxespad=0.5)


rows = [
    (BANDS_A, KTICKS_A, KLABELS_A, False, 'black', (33, 232), (32, 217), 13, '(a)',
     DOS_A_TOT, DOS_A_PZ, DOS_A_PX, DOS_A_PY, 'upper right'),
    (BANDS_B, KTICKS_B, KLABELS_B, False, '#555555', (309, 508), (308, 493), 285, '(b)',
     DOS_B_TOT, DOS_B_PZ, DOS_B_PX, DOS_B_PY, 'upper left'),
    (BANDS_C, KTICKS_C, KLABELS_C, True, 'black', (585, 783), (583, 769), 563, '(c)',
     DOS_C_TOT, DOS_C_PZ, DOS_C_PX, DOS_C_PY, 'upper right'),
    (BANDS_D, KTICKS_D, KLABELS_D, True, 'black', (861, 1059), (860, 1045), 839, '(d)',
     DOS_D_TOT, DOS_D_PZ, DOS_D_PX, DOS_D_PY, 'upper right'),
    (BANDS_E, KTICKS_E, KLABELS_E, True, 'black', (1137, 1335), (1136, 1321), 1113, '(e)',
     DOS_E_TOT, DOS_E_PZ, DOS_E_PX, DOS_E_PY, 'upper left'),
]

for bands, kt, kl, dotted, vc, (lt, lb), (rt, rb), ly, lab, tot, pz, px, py, loc in rows:
    axl = px_axes(46, lt, 348, lb)
    band_panel(axl, bands, kt, kl, dotted, vc)
    axr = px_axes(388, rt, 795, rb)
    dos_panel(axr, tot, pz, px, py, loc)
    fig.text(412 / 800, 1 - ly / 1354, lab, family='Liberation Serif', fontsize=16, ha='center', va='center')

fig.savefig('out.png', dpi=100)
